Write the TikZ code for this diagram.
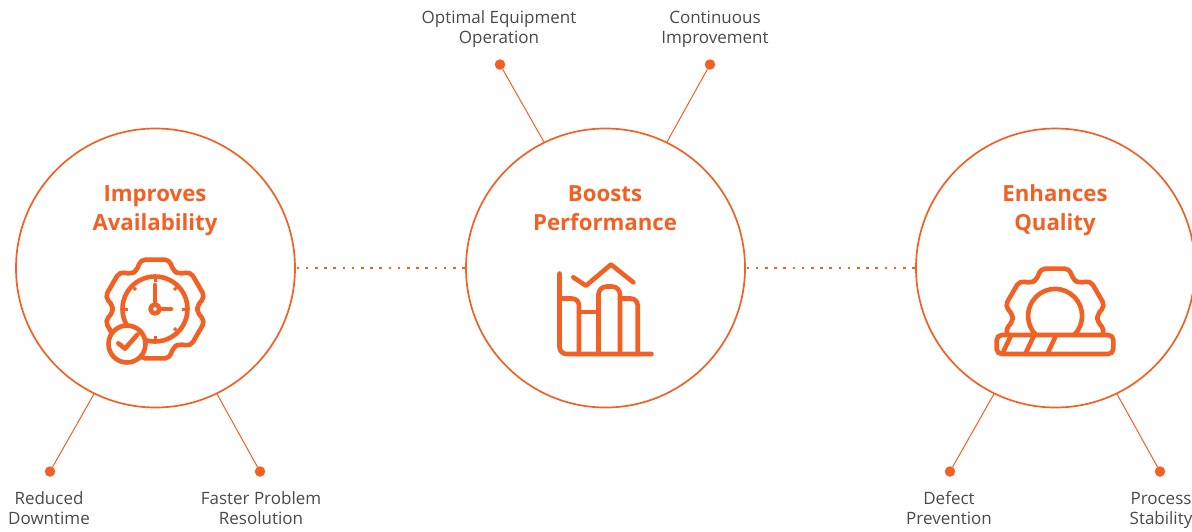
\documentclass[tikz,border=0pt]{standalone}
\usepackage{fontspec}
\setmainfont{Open Sans}
\definecolor{brand}{HTML}{F26024}
\definecolor{ink}{HTML}{4A4A4A}
\newcommand{\hs}{\rule[-6pt]{0pt}{24pt}}
\newcommand{\ls}{\rule[-5pt]{0pt}{18pt}}
\usetikzlibrary{calc}
\tikzset{
  x=1pt,y=-1pt,
  hub/.style={circle,draw=brand,line width=1.7pt,minimum size=279pt,inner sep=0pt,outer sep=0pt},
  tip/.style={circle,fill=brand,minimum size=10.5pt,inner sep=0pt,outer sep=0pt},
  spoke/.style={draw=brand,line width=1pt},
  link/.style={draw=brand,line width=2.7pt,dash pattern=on 2.7pt off 6.5pt,shorten <=1.5pt},
  head/.style={text=brand,font=\fontsize{22.2}{29}\selectfont\bfseries,align=center,inner sep=0pt},
  lab/.style={text=ink,font=\fontsize{17}{20}\selectfont,align=center,inner sep=0pt},
  ico/.style={draw=brand,line width=4.6pt,line cap=round,line join=round},
}
\newcommand{\gearpath}[2]{%
  \draw[ico,rounded corners=5pt] ($(#1,#2)+(-90:49.4)$) \foreach \t in {-90,-30,30,90,150,210}{
     -- ($(#1,#2)+(\t+16.5:51.5)$) -- ($(#1,#2)+(\t+25:42.5)$) -- ($(#1,#2)+(\t+35:42.5)$) -- ($(#1,#2)+(\t+43.5:51.5)$)
  } -- cycle;}
\begin{document}
\begin{tikzpicture}
\useasboundingbox (0,0) rectangle (1192,531);
\clip (0,0) rectangle (1192,531);
% hubs
\node[hub] (c1) at (155.5,268) {};
\node[hub] (c2) at (605.5,268) {};
\node[hub] (c3) at (1055.5,268) {};
\draw[link] (c1.east) -- (c2.west);
\draw[link] (c2.east) -- (c3.west);
% tips
\node[tip] (d1) at (50,471.5) {};
\node[tip] (d2) at (260,471.5) {};
\node[tip] (d3) at (500,64.5) {};
\node[tip] (d4) at (710,64.5) {};
\node[tip] (d5) at (950,471.5) {};
\node[tip] (d6) at (1160,471.5) {};
\draw[spoke] (c1.244) -- (d1);
\draw[spoke] (c1.296) -- (d2);
\draw[spoke] (c2.116) -- (d3);
\draw[spoke] (c2.64) -- (d4);
\draw[spoke] (c3.244) -- (d5);
\draw[spoke] (c3.296) -- (d6);
% titles
\node[head] (t1) at (155,209.5) {\hs Improves\\\hs Availability};
\node[head] (t2) at (605,209.5) {\hs Boosts\\\hs Performance};
\node[head] (t3) at (1055,209.5) {\hs Enhances\\\hs Quality};
% labels
\node[lab] (l3) at (499,29) {\ls Optimal Equipment\\\ls Operation};
\node[lab] (l4) at (715,29) {\ls Continuous\\\ls Improvement};
\node[lab] (l1) at (49,510.5) {\ls Reduced\\\ls Downtime};
\node[lab] (l2) at (261,510.5) {\ls Faster Problem\\\ls Resolution};
\node[lab] (l5) at (949,510.5) {\ls Defect\\\ls Prevention};
\node[lab] (l6) at (1161,510.5) {\ls Process\\\ls Stability};
% icon 1
\gearpath{155}{309}
\draw[ico] (155,309) circle[radius=32.5];
\draw[ico] (155,285) -- (155,304);
\draw[ico] (160,309) -- (171,309);
\draw[ico] (155,309) circle[radius=4.5];
\foreach \a in {-90,-45,0,45,90,180,225}{
  \draw[brand,line width=3pt] ($(155,309)+(\a:30)$) -- ($(155,309)+(\a:27)$);
}
\draw[ico,fill=white] (127,344) circle[radius=18.5];
\draw[ico] (118.3,343.3) -- (125,348.6) -- (137.5,334.5);
% icon 2
\draw[ico,rounded corners=7pt] (559.5,273.5) -- (559.5,354) -- (651.5,354);
\draw[ico,rounded corners=7pt] (559.5,298.5) -- (579,298.5) -- (579,354);
\draw[ico] (579,312) -- (598.5,312);
\draw[ico,rounded corners=8pt] (598.5,354) -- (598.5,286.5) -- (620,286.5) -- (620,354);
\draw[ico,rounded corners=7pt] (620,298.5) -- (637.7,298.5) -- (637.7,354);
\draw[ico] (573.3,277.3) -- (586,285.7) -- (611,264.5) -- (633.3,282.3);
% icon 3
\begin{scope}
\clip (980,255) rectangle (1130,335);
\gearpath{1055}{318}
\end{scope}
\draw[ico] (1036,335) arc[start angle=135,end angle=405,radius=27];
\draw[ico,rounded corners=5pt] (996.7,335) rectangle (1113.3,354);
\draw[ico] (1011,335.5) -- (1002.5,353.5);
\draw[ico] (1034,335.5) -- (1025.5,353.5);
\draw[ico] (1056,335.5) -- (1047.5,353.5);
\end{tikzpicture}
\end{document}
